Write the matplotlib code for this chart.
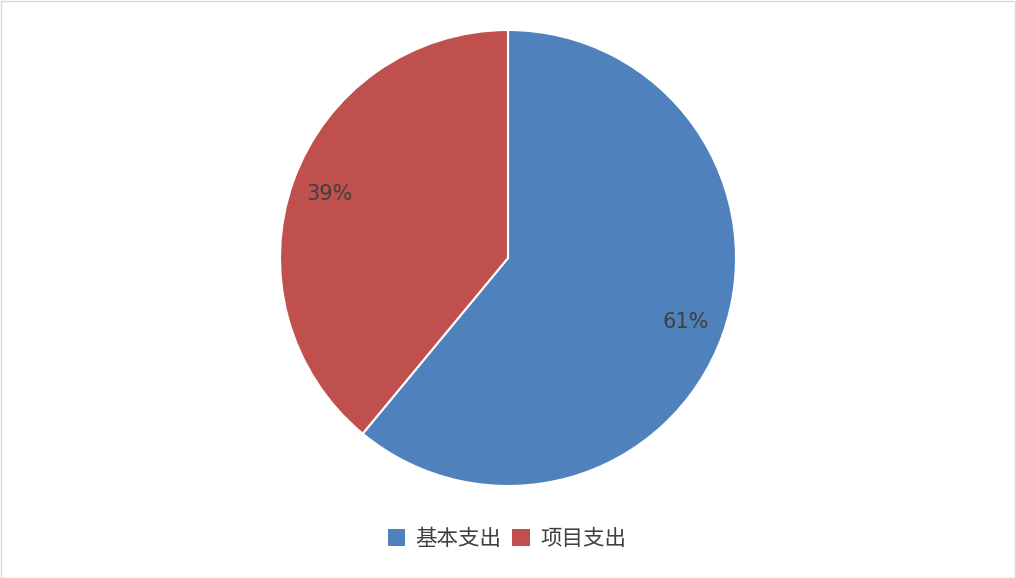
import matplotlib.pyplot as plt
from matplotlib.patches import Rectangle

plt.rcParams['font.family'] = ['Noto Sans CJK SC', 'DejaVu Sans']

categories = ["基本支出", "项目支出"]
values = [61, 39]
colors = ["#4F81BD", "#C0504D"]
text_c = "#404040"

W, H = 1016, 578
fig = plt.figure(figsize=(W / 100, H / 100), dpi=100)
fig.patch.set_facecolor("white")

# pie centre (508, 258) px, radius 228 px
cx, cy, r = 508, 258, 228
ax = fig.add_axes([(cx - r) / W, (H - cy - r) / H, 2 * r / W, 2 * r / H])

wedges, texts, autotexts = ax.pie(
    values, colors=colors, startangle=90, counterclock=False,
    autopct=lambda p: f"{p:.0f}%", pctdistance=0.83, radius=1,
    wedgeprops=dict(edgecolor="white", linewidth=1.5),
    textprops=dict(color=text_c, fontsize=15, family=['DejaVu Sans']),
)
ax.set_xlim(-1, 1)
ax.set_ylim(-1, 1)
ax.set_aspect('equal')
ax.axis('off')

leg = fig.legend(
    wedges, categories, loc='center', bbox_to_anchor=(507 / W, 1 - 539 / H),
    ncol=2, frameon=False, fontsize=15.5, handlelength=0.8, handleheight=0.8,
    handletextpad=0.5, columnspacing=0.5, labelcolor=text_c,
)
for h in leg.legend_handles:
    h.set_edgecolor("none")

# outer border
fig.patches.append(Rectangle((0.5 / W, 0.5 / H), 1 - 1.5 / W, 1 - 1.5 / H,
                             transform=fig.transFigure, fill=False,
                             edgecolor="#D9D9D9", linewidth=1))

fig.savefig("out.png", dpi=100)
